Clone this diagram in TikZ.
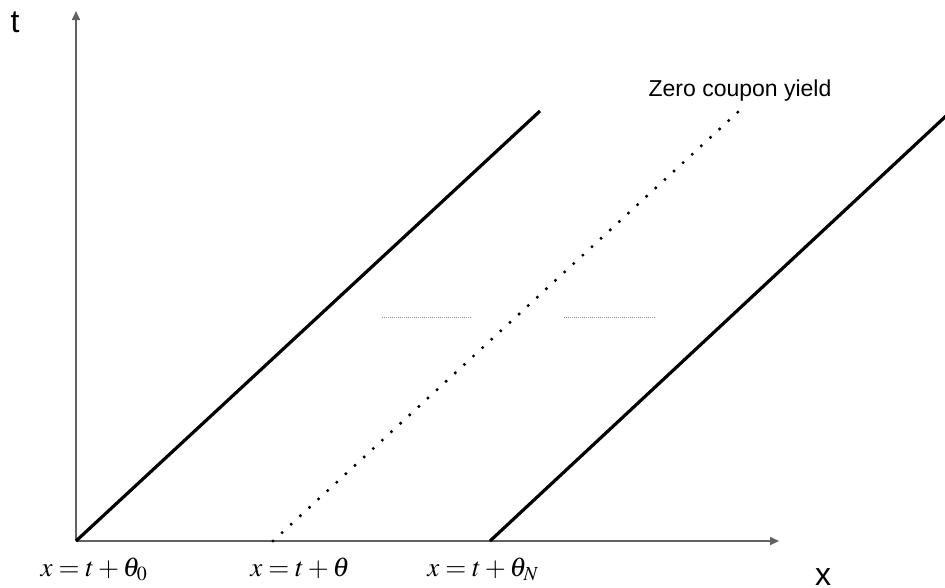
\documentclass[tikz,border=0pt]{standalone}
\usepackage{mathptmx}
\usepackage[no-math]{fontspec}
\setmainfont{Liberation Sans}
\usetikzlibrary{arrows.meta}

\begin{document}
\begin{tikzpicture}[x=1pt,y=-1pt,
  axis/.style={draw=black!62,line width=1.6pt,-{Triangle[length=9pt,width=8pt]}},
  bound/.style={line width=3.2pt},
  yieldline/.style={line width=3.4pt,line cap=round,dash pattern=on 0pt off 12.4pt},
  level/.style={draw=black!45,line width=0.9pt,dash pattern=on 1pt off 1pt},
  lbl/.style={inner sep=0pt,font=\fontsize{27}{31}\selectfont},
  axlbl/.style={inner sep=0pt,font=\fontsize{32}{36}\selectfont}
]
\useasboundingbox (0,0) rectangle (945,587);
% axes
\coordinate (O) at (76,541);
\coordinate (ytop) at (76,11);
\coordinate (xend) at (779,541);
\draw[axis] (O) -- (ytop);
\draw[axis] (O) -- (xend);
\node[axlbl,anchor=base] (tlbl) at (15,32) {t};
\node[axlbl,anchor=base] (xlbl) at (823,585) {x};
% boundaries and zero coupon yield
\coordinate (a0) at (76,541);   \coordinate (b0) at (540,111);
\coordinate (a1) at (273,541);  \coordinate (b1) at (738,112);
\coordinate (a2) at (490,541);  \coordinate (b2) at (946,116);
\draw[bound] (a0) -- (b0);
\draw[yieldline] (a1) -- (b1);
\draw[bound] (a2) -- (b2);
\node[inner sep=0pt,font=\fontsize{23}{27}\selectfont] (zcy) at (740,91) {Zero coupon yield};
% ellipsis marks
\coordinate (l1) at (382,317); \coordinate (r1) at (472,317);
\coordinate (l2) at (564,317); \coordinate (r2) at (655,317);
\draw[level] (l1) -- (r1);
\draw[level] (l2) -- (r2);
% labels under the axis
\node[lbl,anchor=base] (th0) at (94,576) {$x=t+\theta_0$};
\node[lbl,anchor=base] (th) at (300,576) {$x=t+\theta$};
\node[lbl,anchor=base] (thN) at (483,576) {$x=t+\theta_N$};
\end{tikzpicture}
\end{document}
